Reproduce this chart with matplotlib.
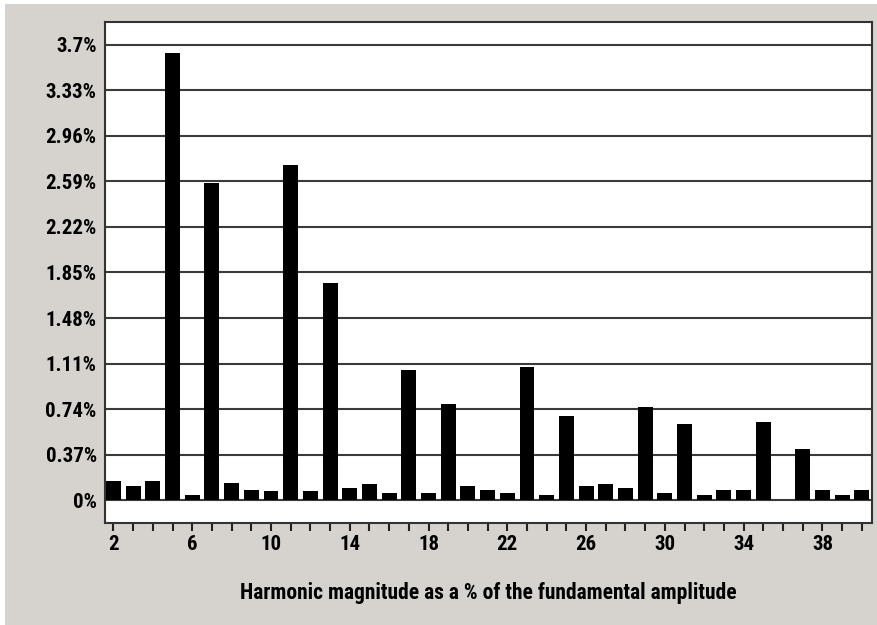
import numpy as np
import matplotlib.pyplot as plt
from matplotlib.patches import Rectangle

harmonics = list(range(2, 41))
magnitude = [0.157, 0.114, 0.157, 3.63, 0.046, 2.575, 0.141, 0.087, 0.073, 2.72,
             0.073, 1.766, 0.100, 0.128, 0.060, 1.057, 0.060, 0.780, 0.114, 0.087,
             0.060, 1.084, 0.046, 0.687, 0.114, 0.128, 0.100, 0.755, 0.060, 0.622,
             0.046, 0.087, 0.087, 0.633, 0.0, 0.416, 0.087, 0.046, 0.087]
ytick_vals = [0, 0.37, 0.74, 1.11, 1.48, 1.85, 2.22, 2.59, 2.96, 3.33, 3.7]
ytick_labels = ['0%', '0.37%', '0.74%', '1.11%', '1.48%', '1.85%', '2.22%',
                '2.59%', '2.96%', '3.33%', '3.7%']
xtick_major = list(range(2, 41, 4))
xlabel = 'Harmonic magnitude as a % of the fundamental amplitude'

plt.rcParams['font.family'] = ['Roboto Condensed', 'DejaVu Sans']
plt.rcParams['font.weight'] = 'bold'
fsize = 15

fig = plt.figure(figsize=(8.78, 6.25), dpi=100, facecolor='white')
# grey panel behind the chart
fig.patches.append(Rectangle((5 / 878, 0), 1, 1 - 4 / 625, transform=fig.transFigure,
                             facecolor='#d6d3ce', edgecolor='none', zorder=-10))

ax = fig.add_axes([105 / 878, 102 / 625, 767 / 878, 501 / 625])
ax.set_facecolor('white')
ax.bar(harmonics, magnitude, width=0.76, color='black', zorder=3)

ax.set_xlim(1.57, 40.52)
ax.set_ylim(-0.185, 3.885)

ax.set_yticks(ytick_vals)
ax.set_yticklabels(ytick_labels)
ax.yaxis.grid(True, color='#3a3a3a', linewidth=1.5)
ax.set_axisbelow(True)
ax.tick_params(axis='y', length=0, pad=6, labelsize=fsize)

ax.set_xticks(xtick_major)
ax.set_xticks(harmonics, minor=True)
ax.tick_params(axis='x', which='both', direction='out', length=6, width=1.5,
               color='#222222', labelsize=fsize, pad=3)

for s in ax.spines.values():
    s.set_linewidth(1.5)
    s.set_color('#333333')

ax.set_xlabel(xlabel, fontsize=15.5, fontweight='bold', labelpad=20)

fig.savefig('out.png', dpi=100, facecolor=fig.get_facecolor())
